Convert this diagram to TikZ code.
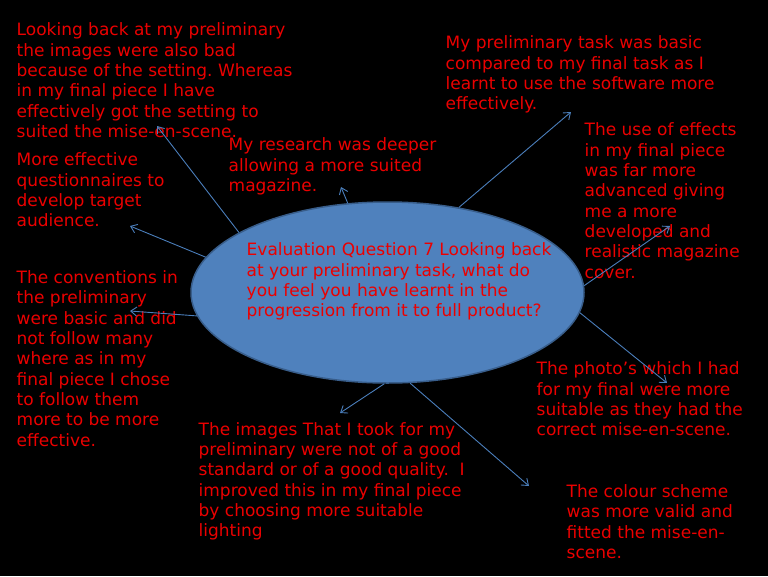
\documentclass[tikz,border=0pt]{standalone}
\usepackage{fontspec}
\setmainfont{DejaVu Sans}
\usetikzlibrary{shapes.geometric}
\usetikzlibrary{arrows.meta}
\definecolor{txtred}{RGB}{235,0,0}
\definecolor{ovalblue}{RGB}{79,129,189}
\definecolor{ovalline}{RGB}{56,93,138}
\definecolor{arrowblue}{RGB}{74,126,187}

\begin{document}
\frenchspacing
\begin{tikzpicture}[x=1pt,y=-1pt,
        note/.style={anchor=north west,inner sep=0pt,align=left,text=txtred,
            font=\fontsize{17}{20.3}\selectfont,execute at begin node=\strut},
        link/.style={draw=arrowblue,line width=0.9pt,
            -{Straight Barb[length=6pt,width=9pt]}}]
    \fill[black] (0,0) rectangle (768,576);
    \useasboundingbox (0,0) rectangle (768,576);
    % the question in the middle
    \node [ellipse,draw=ovalline,fill=ovalblue,line width=1.5pt,inner sep=0pt,
        minimum width=393pt,minimum height=181pt] (oval) at (387.5,292.5) {};
    \node [note] (question) at (246.5,242.8) {Evaluation Question 7 Looking back\\
        at your preliminary task, what do\\you feel you have learnt in the\\
        progression from it to full product?};
    % the answers round it
    \node [note] (setting) at (16.5,22.8) {Looking back at my preliminary\\
        the images were also bad\\because of the setting. Whereas\\
        in my final piece I have\\effectively got the setting to\\
        suited the mise-en-scene.};
    \node [note] (software) at (445.5,35.8) {My preliminary task was basic\\
        compared to my final task as I\\learnt to use the software more\\
        effectively.};
    \node [note] (effects) at (584.5,122.8) {The use of effects\\in my final piece\\
        was far more\\advanced giving\\me a more\\developed and\\
        realistic magazine\\cover.};
    \node [note] (research) at (228.5,137.8) {My research was deeper\\
        allowing a more suited\\magazine.};
    \node [note] (survey) at (16.5,152.8) {More effective\\questionnaires to\\
        develop target\\audience.};
    \node [note] (conventions) at (16.5,270.5) {The conventions in\\the preliminary\\
        were basic and did\\not follow many\\where as in my\\
        final piece I chose\\to follow them\\more to be more\\effective.};
    \node [note] (photos) at (536.5,361.8) {The photo’s which I had\\
        for my final were more\\suitable as they had the\\
        correct mise-en-scene.};
    \node [note] (images) at (198.5,422.1) {The images That I took for my\\
        preliminary were not of a good\\standard or of a good quality.~ I\\
        improved this in my final piece\\by choosing more suitable\\lighting};
    \node [note] (colour) at (566.5,484.5) {The colour scheme\\was more valid and\\
        fitted the mise-en-\\scene.};
    % arrow tips
    \coordinate (tipsetting) at (157,126);
    \coordinate (tipsurvey) at (130,226);
    \coordinate (tipconv) at (130,311);
    \coordinate (tipresearch) at (341,187);
    \coordinate (tipsoftware) at (571,112);
    \coordinate (tipeffects) at (670,226);
    \coordinate (tipphotos) at (667,383);
    \coordinate (tipimages) at (340,413);
    \coordinate (tipcolour) at (529,486);
    % arrows out of the oval
    \draw [link] (oval.158) -- (tipsetting);
    \draw [link] (oval.169) -- (tipsurvey);
    \draw [link] (oval.187) -- (tipconv);
    \draw [link] (oval.114) -- (tipresearch);
    \draw [link] (oval.50) -- (tipsoftware);
    \draw [link] (oval.2) -- (tipeffects);
    \draw [link] (oval.-6) -- (tipphotos);
    \draw [link] (oval.268) -- (tipimages);
    \draw [link] (oval.284) -- (tipcolour);
\end{tikzpicture}
\end{document}
